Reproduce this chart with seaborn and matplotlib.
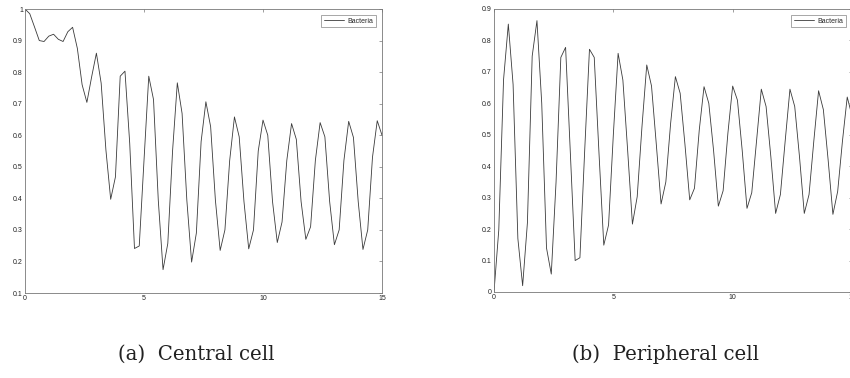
import numpy as np
import pandas as pd
import matplotlib
matplotlib.use("Agg")
import matplotlib.pyplot as plt
import seaborn as sns

# sampling times (step 0.2)
time = np.round(np.arange(76) * 0.2, 1)

central = [1.0, 0.985, 0.943, 0.900, 0.897, 0.914, 0.920, 0.904, 0.897, 0.928,
           0.942, 0.875, 0.760, 0.704, 0.785, 0.860, 0.765, 0.553, 0.397, 0.468,
           0.787, 0.803, 0.574, 0.241, 0.249, 0.52, 0.787, 0.713, 0.394, 0.174,
           0.257, 0.55, 0.766, 0.669, 0.394, 0.198, 0.29, 0.58, 0.706, 0.627,
           0.394, 0.235, 0.30, 0.52, 0.658, 0.595, 0.39, 0.24, 0.30, 0.55,
           0.648, 0.60, 0.39, 0.26, 0.325, 0.52, 0.637, 0.587, 0.39, 0.27,
           0.31, 0.52, 0.64, 0.595, 0.39, 0.253, 0.30, 0.52, 0.644, 0.593,
           0.39, 0.238, 0.30, 0.53, 0.646, 0.60]

peripheral = [0.0, 0.197, 0.675, 0.852, 0.66, 0.17, 0.02, 0.22, 0.75, 0.863,
              0.60, 0.14, 0.057, 0.35, 0.746, 0.778, 0.44, 0.10, 0.109, 0.45,
              0.772, 0.746, 0.44, 0.149, 0.213, 0.50, 0.759, 0.674, 0.45, 0.216,
              0.303, 0.526, 0.722, 0.655, 0.47, 0.28, 0.35, 0.536, 0.685, 0.632,
              0.47, 0.293, 0.33, 0.515, 0.653, 0.60, 0.45, 0.273, 0.322, 0.505,
              0.655, 0.61, 0.45, 0.266, 0.316, 0.48, 0.645, 0.59, 0.43, 0.25,
              0.31, 0.48, 0.645, 0.59, 0.43, 0.25, 0.31, 0.48, 0.64, 0.58,
              0.42, 0.247, 0.32, 0.48, 0.62, 0.56]

series_label = "Bacteria"
captions = ["(a)  Central cell", "(b)  Peripheral cell"]
x_ticks = [0, 5, 10, 15]
x_ticklabels = ["0", "5", "10", "15"]
y_ticks_a = [0.1, 0.2, 0.3, 0.4, 0.5, 0.6, 0.7, 0.8, 0.9, 1.0]
y_ticklabels_a = ["0.1", "0.2", "0.3", "0.4", "0.5", "0.6", "0.7", "0.8", "0.9", "1"]
y_ticks_b = [0, 0.1, 0.2, 0.3, 0.4, 0.5, 0.6, 0.7, 0.8, 0.9]
y_ticklabels_b = ["0", "0.1", "0.2", "0.3", "0.4", "0.5", "0.6", "0.7", "0.8", "0.9"]

sns.set_style("white")
plt.rcParams["font.family"] = ["Liberation Sans", "DejaVu Sans"]

fig = plt.figure(figsize=(8.5, 3.78), dpi=100)
ax1 = fig.add_axes([25 / 850, 85 / 378, 357 / 850, 284 / 378])
ax2 = fig.add_axes([494 / 850, 86 / 378, 358 / 850, 283 / 378])

df_a = pd.DataFrame({"t": time, "v": central})
df_b = pd.DataFrame({"t": time, "v": peripheral})

line_color = "#3a3a3a"
for ax, df, yt, ytl, ylim in [
    (ax1, df_a, y_ticks_a, y_ticklabels_a, (0.1, 1.0)),
    (ax2, df_b, y_ticks_b, y_ticklabels_b, (0.0, 0.9)),
]:
    sns.lineplot(data=df, x="t", y="v", ax=ax, color=line_color, linewidth=0.6,
                 label=series_label)
    ax.set_xlim(0, 15)
    ax.set_ylim(*ylim)
    ax.set_xticks(x_ticks)
    ax.set_xticklabels(x_ticklabels)
    ax.set_yticks(yt)
    ax.set_yticklabels(ytl)
    ax.set_xlabel("")
    ax.set_ylabel("")
    ax.tick_params(direction="in", length=2.5, width=0.4, top=True, right=True,
                   labelsize=5, pad=1.5, colors="#222222", color="#555555")
    for s in ax.spines.values():
        s.set_color("#777777")
        s.set_linewidth(0.6)
    leg = ax.legend(loc="upper right", fontsize=5, frameon=True, fancybox=False,
                    handlelength=2.9, handletextpad=0.5, borderpad=0.35,
                    borderaxespad=0.9)
    leg.get_frame().set_edgecolor("#666666")
    leg.get_frame().set_linewidth(0.5)

fig.text(196 / 850, 1 - 360 / 378, captions[0], ha="center", va="baseline",
         fontsize=14.2, family=["DejaVu Serif"], color="#222222")
fig.text(665 / 850, 1 - 360 / 378, captions[1], ha="center", va="baseline",
         fontsize=14.2, family=["DejaVu Serif"], color="#222222")

fig.savefig("out.png", dpi=100)
